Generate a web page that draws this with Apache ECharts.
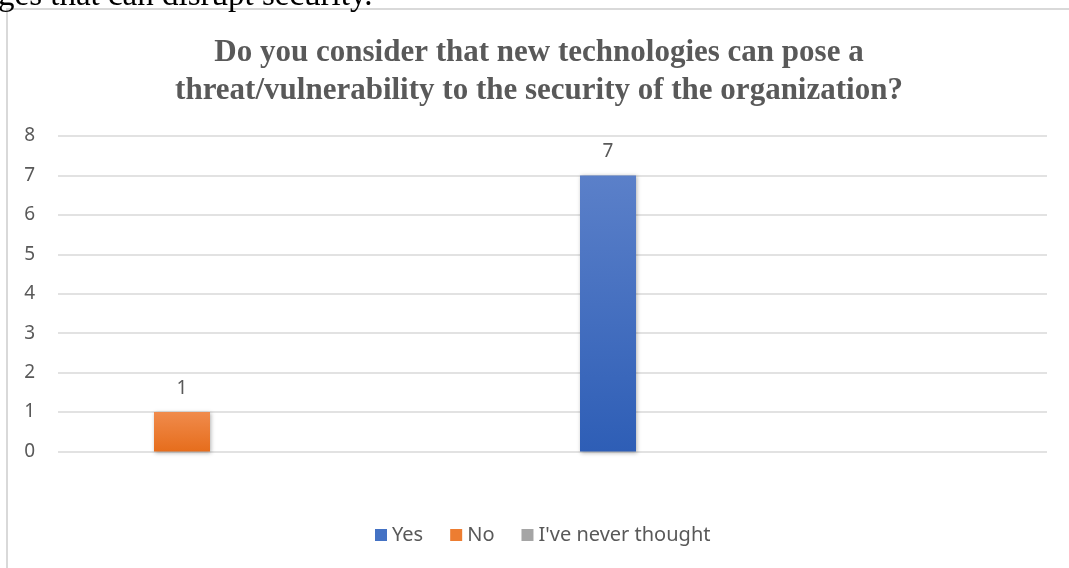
<!DOCTYPE html>
<html><head><meta charset="utf-8">
<script src="https://cdn.jsdelivr.net/npm/echarts@6/dist/echarts.min.js"></script>
<style>html,body{margin:0;padding:0;background:#fff}#c{width:1069px;height:568px}</style>
</head><body><div id="c"></div>
<script>
const headerText = 'ges that can disrupt security.';
const titleLines = ['Do you consider that new technologies can pose a', 'threat/vulnerability to the security of the organization?'];
const seriesNames = ['Yes', 'No', "I've never thought"];
const categories = ['No', 'Yes', "I've never thought"];
const yesValues = [null, 7, null];
const noValues = [1, null, null];
const neverValues = [null, null, null];
const yMin = 0, yMax = 8, yStep = 1;

const uiFont = 'Noto Sans';
const gray = '#595959';

function grad(top, bottom) {
  return new echarts.graphic.LinearGradient(0, 0, 0, 1, [
    { offset: 0, color: top }, { offset: 1, color: bottom }
  ]);
}
const colors = {
  'Yes': { solid: '#4472c4', fill: grad('#5b80c9', '#2e5eb6') },
  'No': { solid: '#ed7d31', fill: grad('#f08b4c', '#e66d1c') },
  "I've never thought": { solid: '#a5a5a5', fill: grad('#b0b0b0', '#999999') }
};
const valuesByName = { 'Yes': yesValues, 'No': noValues, "I've never thought": neverValues };

const chart = echarts.init(document.getElementById('c'), null, { renderer: 'canvas' });
chart.setOption({
  backgroundColor: '#fff',
  animation: false,
  title: {
    text: titleLines.join('\n'),
    left: 534, top: 29, textAlign: 'center',
    textStyle: { fontFamily: 'Liberation Serif', fontWeight: 'bold', fontSize: 31, lineHeight: 38, color: gray }
  },
  graphic: [
    { type: 'rect', shape: { x: 7, y: 9, width: 1200, height: 700 }, style: { fill: 'none', stroke: '#d9d9d9', lineWidth: 2 }, silent: true, z: -1 },
    { type: 'text', x: -2, y: -20.5, style: { text: headerText, font: '33px "Liberation Serif"', fill: '#000', verticalAlign: 'top' }, silent: true }
  ],
  legend: {
    left: 370, top: 520,
    itemWidth: 12, itemHeight: 12, itemGap: 27,
    icon: 'rect',
    textStyle: { fontFamily: uiFont, fontSize: 20, color: gray },
    data: seriesNames.map(n => ({ name: n, itemStyle: { color: colors[n].solid } }))
  },
  grid: [
    { left: 58, right: 22, top: 136, bottom: 116.5, outerBoundsMode: 'none' },
    { left: -31, width: 1278, top: 136, bottom: 116.5, outerBoundsMode: 'none' }
  ],
  xAxis: [
    { type: 'category', gridIndex: 0, data: [''], axisLine: { show: false }, axisTick: { show: false }, axisLabel: { show: false } },
    { type: 'category', gridIndex: 1, data: categories, axisLine: { show: false }, axisTick: { show: false }, axisLabel: { show: false } }
  ],
  yAxis: [
    { type: 'value', gridIndex: 0, min: yMin, max: yMax, interval: yStep,
      axisLine: { show: false }, axisTick: { show: false },
      axisLabel: { margin: 23, fontFamily: uiFont, fontSize: 19, color: gray },
      splitLine: { lineStyle: { color: '#d9d9d9', width: 1.5 } } },
    { type: 'value', gridIndex: 1, min: yMin, max: yMax, interval: yStep, show: false, splitLine: { show: false } }
  ],
  series: seriesNames.map(n => ({
    name: n, type: 'bar', xAxisIndex: 1, yAxisIndex: 1,
    data: valuesByName[n], barWidth: 56, barGap: '-100%',
    itemStyle: { color: colors[n].fill, shadowBlur: 4, shadowColor: 'rgba(0,0,0,0.3)', shadowOffsetX: 1, shadowOffsetY: 1 },
    label: { show: true, position: 'top', distance: 14, fontFamily: uiFont, fontSize: 19, color: gray }
  }))
});
</script></body></html>
